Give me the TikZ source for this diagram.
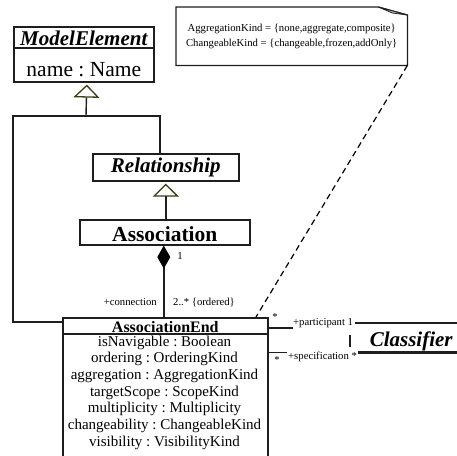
\documentclass[tikz,border=0pt]{standalone}
\usepackage{fontspec}
\setmainfont{Liberation Serif}
\usetikzlibrary{arrows.meta,calc}
\definecolor{ink}{RGB}{30,30,30}
\definecolor{olivetri}{RGB}{60,60,20}
\frenchspacing
\begin{document}
\begin{tikzpicture}[x=1pt,y=-1pt,
  box/.style={draw=ink,line width=1.6pt,inner sep=0pt,anchor=north west},
  bigbi/.style={font=\fontsize{21}{24}\selectfont\bfseries\itshape},
  bigb/.style={font=\fontsize{21.5}{24}\selectfont\bfseries},
  bigr/.style={font=\fontsize{21.5}{24}\selectfont},
  attrs/.style={font=\fontsize{15}{16.7}\selectfont,align=center,inner sep=0pt},
  lbl/.style={font=\fontsize{10.7}{12}\selectfont,inner sep=0pt},
  conn/.style={draw=ink,line width=1.4pt},
  gen/.style={-{Triangle[open,length=13pt,width=26pt,color=olivetri,line width=1.3pt]},shorten >=2pt},
  comp/.style={-{Diamond[length=23pt,width=13pt,color=black,fill=black]}},
  dashline/.style={draw=black,line width=1.2pt,dash pattern=on 6pt off 4pt},
  clsline/.style={draw=ink,line width=2.2pt}
]
\useasboundingbox (0,0) rectangle (457,455);

% classes
\node[box,bigbi,minimum width=140pt,minimum height=21pt,text height=19pt,text depth=2pt] (me) at (13,26) {ModelElement};
\node[box,bigr,minimum width=140pt,minimum height=34pt,text height=29pt,text depth=5pt] (meattr) at (13,47) {name : Name};
\node[box,bigbi,minimum width=146pt,minimum height=27pt,text height=19pt,text depth=8pt] (rel) at (92,153) {Relationship};
\node[box,bigb,minimum width=170pt,minimum height=25pt,text height=22pt,text depth=3pt] (assoc) at (79,219) {Association};
\node[box,font=\fontsize{16}{18}\selectfont\bfseries,minimum width=205pt,minimum height=16pt,text height=14.5pt,text depth=1.5pt] (asend) at (62,317) {AssociationEnd};
\node[box,minimum width=205pt,minimum height=140pt] (asattr) at (62,333) {};
\node[attrs,anchor=north] (attrtext) at (164.5,335.5) {isNavigable : Boolean\\ordering : OrderingKind\\aggregation : AggregationKind\\targetScope : ScopeKind\\multiplicity : Multiplicity\\changeability : ChangeableKind\\visibility : VisibilityKind};

% Classifier, partly hidden at the right border
\node[bigbi,inner sep=0pt,anchor=north west,minimum width=122pt,minimum height=29pt,text height=23pt,text depth=6pt] (cls) at (350,323) {Classifier};
\draw[clsline] ($(cls.north west)+(5,0)$) -- (cls.north east);
\draw[clsline] ($(cls.south west)+(8,0)$) -- (cls.south east);
\draw[clsline] ($(cls.north west)+(0,12)$) -- ($(cls.south west)+(0,-5)$);

% note with folded corner
\node[inner sep=0pt,anchor=north west,minimum width=231pt,minimum height=58pt,align=center,font=\fontsize{10.7}{15}\selectfont] (note) at (176,7) {AggregationKind = \{none,aggregate,composite\}\\ChangeableKind = \{changeable,frozen,addOnly\}};
\draw[draw=ink,line width=1.3pt] (note.south east) -- (note.south west) -- (note.north west) -- ($(note.north east)+(-29,0)$) -- ($(note.north east)+(0,8)$) -- cycle;
\draw[draw=ink,line width=0.8pt,fill=black!25] ($(note.north east)+(-29,0)$) -- ($(note.north east)+(-15,6)$) -- ($(note.north east)+(0,8)$) -- cycle;
\draw[dashline] (note.south east) -- ($(asend.north west)+(194,0)$);

% generalizations
\coordinate (gj) at (86,116);
\draw[conn] ($(rel.north)+(-6,0)$) |- (gj);
\draw[conn] ($(asend.north west)+(0,5)$) -| (13,116) -- (gj);
\draw[conn,gen] (gj) -- ($(meattr.south)+(3,0)$);
\draw[conn,gen] ($(assoc.north)+(1,0)$) -- (rel.south);

% composition
\draw[conn,comp] ($(asend.north)+(-1.5,0)$) -- ($(assoc.south)+(-1,0)$);
\node[lbl] (one) at (180,256) {1};
\node[lbl,anchor=east] (connlbl) at (157,302) {+connection};
\node[lbl,anchor=west] (ordlbl) at (173,302) {2..* \{ordered\}};

% associations to Classifier
\coordinate (pend) at (293,328);
\coordinate (send) at (287,352.7);
\draw[conn] (asend.east |- pend) -- (pend);
\draw[conn] (asattr.east |- send) -- (send);
\node[lbl] (pstar) at (275,317) {*};
\node[lbl,anchor=west] (plbl) at (293,323) {+participant 1};
\node[lbl] (sstar) at (277,360) {*};
\node[lbl,anchor=west] (slbl) at (288,357) {+specification *};
\end{tikzpicture}
\end{document}
